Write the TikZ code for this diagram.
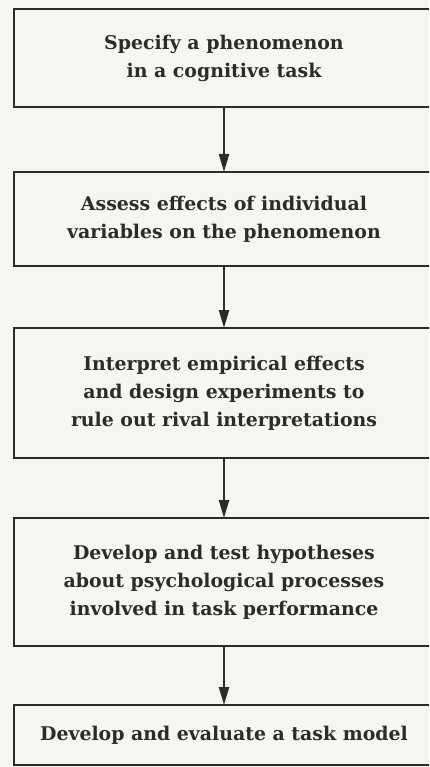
\documentclass[tikz,border=0pt]{standalone}
\usepackage{fontspec}
\setmainfont{DejaVu Serif}
\usetikzlibrary{arrows.meta}
\definecolor{ink}{HTML}{2B2B28}
\definecolor{paper}{HTML}{F5F5F1}
\begin{document}
\begin{tikzpicture}[x=1pt,y=-1pt,
  stage/.style={draw=ink, line width=2.6pt, rectangle, minimum width=420pt,
    inner sep=0pt, outer sep=0pt, text=ink, align=center,
    font=\bfseries\fontsize{18.9}{28}\selectfont},
  flow/.style={draw=ink, line width=2.2pt, -{Triangle[length=18pt,width=10pt]}}]
  % page
  \fill[paper] (0,0) rectangle (429,767);
  \useasboundingbox (0,0) rectangle (429,767);
  \clip (0,0) rectangle (429,767);
  % stages
  \node[stage, minimum height=98pt]  (s1) at (224,58)  {Specify a phenomenon\\in a cognitive task};
  \node[stage, minimum height=94pt]  (s2) at (224,219) {Assess effects of individual\\variables on the phenomenon};
  \node[stage, minimum height=130pt] (s3) at (224,393) {Interpret empirical effects\\and design experiments to\\rule out rival interpretations};
  \node[stage, minimum height=128pt] (s4) at (224,582) {Develop and test hypotheses\\about psychological processes\\involved in task performance};
  \node[stage, minimum height=60pt]  (s5) at (224,735) {Develop and evaluate a task model};
  % connectors
  \draw[flow] (s1.south) -- (s2.north);
  \draw[flow] (s2.south) -- (s3.north);
  \draw[flow] (s3.south) -- (s4.north);
  \draw[flow] (s4.south) -- (s5.north);
\end{tikzpicture}
\end{document}
